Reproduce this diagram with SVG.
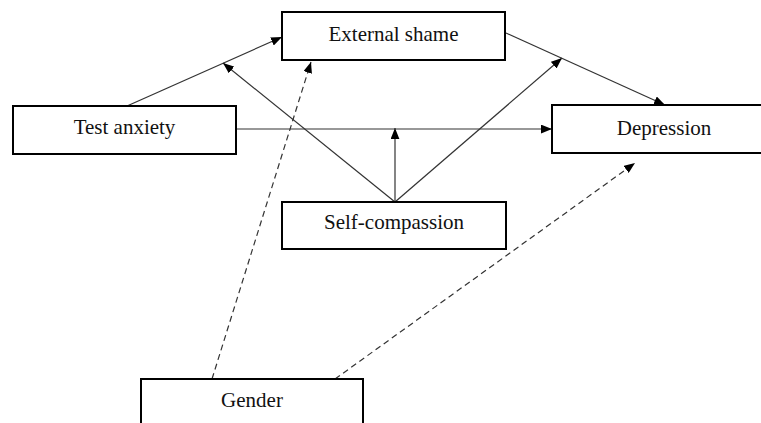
<svg xmlns="http://www.w3.org/2000/svg" width="761" height="423" viewBox="0 0 761 423">
<defs>
<marker id="ah" viewBox="0 0 10 8" refX="10" refY="4" markerWidth="11" markerHeight="9" markerUnits="userSpaceOnUse" orient="auto">
<path d="M0,0 L10,4 L0,8 z" fill="#000"/>
</marker>
<style>
.box{fill:#fff;stroke:#000;stroke-width:2}
.lbl{font-family:"Liberation Serif","Times New Roman",serif;font-size:21px;fill:#111;text-anchor:middle}
.c{stroke:#333;stroke-width:1.2;fill:none;marker-end:url(#ah)}
.d{stroke-dasharray:6 4}
</style>
</defs>
<rect width="761" height="423" fill="#fff"/>
<g id="connectors">
<line class="c" x1="127" y1="106" x2="282" y2="37"/>
<line class="c" x1="395" y1="202" x2="223" y2="63"/>
<line class="c" x1="395" y1="202" x2="395" y2="128"/>
<line class="c" x1="395" y1="202" x2="562" y2="58"/>
<line class="c" x1="236" y1="129" x2="552" y2="129"/>
<line class="c" x1="506" y1="33" x2="665" y2="105"/>
<line class="c d" x1="212" y1="379" x2="311" y2="62"/>
<line class="c d" x1="335" y1="379" x2="635" y2="163"/>
</g>
<g id="external-shame">
<rect class="box" x="282" y="12" width="223" height="48"/>
<text class="lbl" x="393.5" y="41">External shame</text>
</g>
<g id="test-anxiety">
<rect class="box" x="13" y="106" width="223" height="48"/>
<text class="lbl" x="124.5" y="134">Test anxiety</text>
</g>
<g id="depression">
<rect class="box" x="552" y="105" width="224" height="48"/>
<text class="lbl" x="664" y="135">Depression</text>
</g>
<g id="self-compassion">
<rect class="box" x="282" y="202" width="224" height="47"/>
<text class="lbl" x="394" y="229">Self-compassion</text>
</g>
<g id="gender">
<rect class="box" x="141" y="379" width="222" height="60"/>
<text class="lbl" x="252" y="407">Gender</text>
</g>
</svg>
